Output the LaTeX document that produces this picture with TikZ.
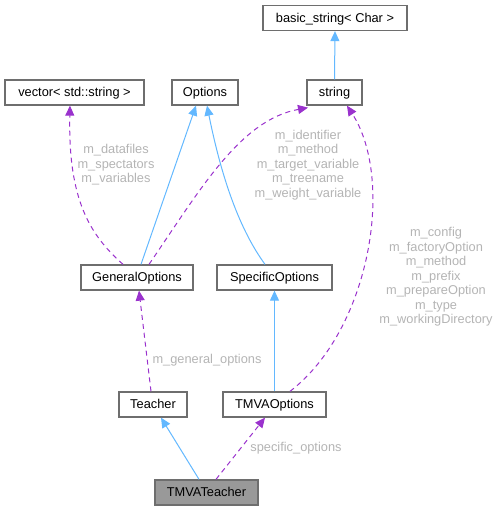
\documentclass[tikz,border=0pt]{standalone}
\usepackage{fontspec}
\setmainfont{Liberation Sans}
\usetikzlibrary{arrows.meta}
\definecolor{edgeblue}{HTML}{63B8FF}
\definecolor{edgepurple}{HTML}{9A32CD}
\definecolor{boxborder}{HTML}{6E6E6E}
\definecolor{labelgray}{HTML}{B4B4B4}
\definecolor{curfill}{HTML}{999999}
\tikzset{
  cls/.style={draw=boxborder, line width=1.3pt, fill=white, minimum height=25pt, inner sep=0pt,
    text height=9.2pt, text depth=0.8pt,
    font=\fontsize{12.8}{14.5}\selectfont, text=black},
  cur/.style={cls, fill=curfill},
  inherit/.style={draw=edgeblue, line width=1pt, -{Triangle[length=10pt,width=9pt]}},
  usage/.style={draw=edgepurple, line width=1pt, dash pattern=on 5pt off 4pt,
    -{Triangle[length=10pt,width=9pt]}},
  elabel/.style={text=labelgray, align=center, font=\fontsize{12.8}{14.5}\selectfont, inner sep=0pt}
}
\begin{document}
\begin{tikzpicture}[x=1pt,y=-1pt]
\useasboundingbox (0,0) rectangle (500,511);
% nodes
\node[cls, minimum width=144pt] (bs) at (335,18) {basic\_string< Char >};
\node[cls, minimum width=139pt] (vec) at (74.5,92.5) {vector< std::string >};
\node[cls, minimum width=66pt] (opt) at (205,92.5) {Options};
\node[cls, minimum width=55pt] (str) at (334.5,92.5) {string};
\node[cls, minimum width=112pt] (gen) at (137,277.5) {GeneralOptions};
\node[cls, minimum width=115pt] (spec) at (274.5,277.5) {SpecificOptions};
\node[cls, minimum width=68pt] (teach) at (153,404.5) {Teacher};
\node[cls, minimum width=103pt] (topt) at (274.5,404.5) {TMVAOptions};
\node[cur, minimum width=103pt] (tt) at (206.5,492.5) {TMVATeacher};
% inheritance edges
\draw[inherit] (str.north) -- (bs.south);
\draw[inherit] ([xshift=4pt]gen.north) -- ([xshift=-9pt]opt.south);
\draw[inherit] ([xshift=-9.5pt]spec.north) .. controls (240,230) and (222,180) .. ([xshift=2pt]opt.south);
\draw[inherit] (topt.north) -- (spec.south);
\draw[inherit] ([xshift=-7.5pt]tt.north) -- ([xshift=8pt]teach.south);
% usage edges
\draw[usage] ([xshift=-14pt]gen.north) .. controls (90,235) and (68,200) .. ([xshift=-4.5pt]vec.south);
\draw[usage] ([xshift=12pt]gen.north) .. controls (200,190) and (240,120) .. ([xshift=-26.5pt,yshift=-2pt]str.south);
\draw[usage] ([xshift=15.5pt]topt.north) .. controls (370,330) and (395,180) .. ([xshift=12.5pt]str.south);
\draw[usage] ([xshift=-2pt]teach.north) -- ([xshift=2pt]gen.south);
\draw[usage] ([xshift=9.5pt]tt.north) -- ([xshift=-9.5pt]topt.south);
% labels
\node[elabel] (l1) at (116,165) {m\_datafiles\\m\_spectators\\m\_variables};
\node[elabel] (l2) at (308,165) {m\_identifier\\m\_method\\m\_target\_variable\\m\_treename\\m\_weight\_variable};
\node[elabel] (l3) at (436,277) {m\_config\\m\_factoryOption\\m\_method\\m\_prefix\\m\_prepareOption\\m\_type\\m\_workingDirectory};
\node[elabel] (l4) at (207,360) {m\_general\_options};
\node[elabel] (l5) at (296,448) {specific\_options};
\end{tikzpicture}
\end{document}
